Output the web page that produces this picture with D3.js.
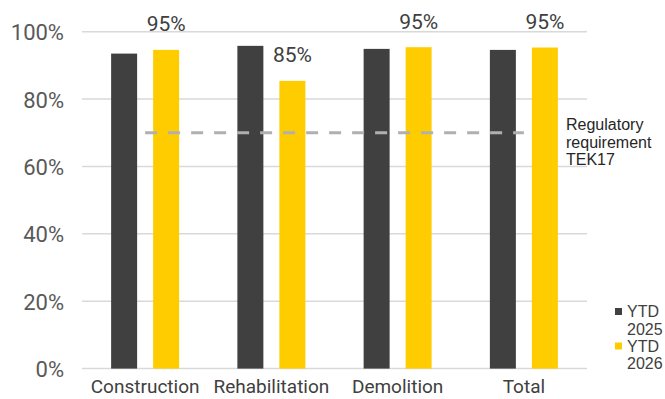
<!DOCTYPE html>
<html>
<head>
<meta charset="utf-8">
<script src="https://cdn.jsdelivr.net/npm/d3@7"></script>
<style>
  html, body { margin: 0; padding: 0; background: #fff; }
  svg { display: block; }
</style>
</head>
<body>
<svg id="chart" width="665" height="399"></svg>
<script>
const categories = ["Construction", "Rehabilitation", "Demolition", "Total"];
const seriesNames = ["YTD 2025", "YTD 2026"];
const ytd2025 = [0.935, 0.958, 0.949, 0.946];
const ytd2026 = [0.946, 0.854, 0.954, 0.953];
const requirementValue = 0.70;
const requirementLabel = ["Regulatory", "requirement", "TEK17"];
const yTicks = [0, 0.2, 0.4, 0.6, 0.8, 1.0];
const colors = ["#404040", "#FFCC00"];

const svg = d3.select("#chart");
const x = d3.scaleBand().domain(categories).range([82, 587]).paddingInner(0).paddingOuter(0);
const y = d3.scaleLinear().domain([0, 1]).range([368.6, 31.7]);
const bw = x.bandwidth();
const xs = d3.scaleBand().domain(seriesNames).range([bw / 2 - 34, bw / 2 + 34]).paddingInner(0.381);

// gridlines
svg.append("g").selectAll("line").data(yTicks).join("line")
  .attr("x1", 82).attr("x2", 587)
  .attr("y1", d => y(d)).attr("y2", d => y(d))
  .attr("stroke", "#d9d9d9").attr("stroke-width", 1.5);

// y axis labels
const yAxis = d3.axisLeft(y).tickValues(yTicks).tickFormat(d3.format(".0%")).tickSize(0).tickPadding(0);
const gy = svg.append("g").attr("transform", "translate(64,0)").call(yAxis);
gy.select(".domain").remove();
gy.selectAll("text").attr("font-family", "Roboto").attr("font-size", 22).attr("fill", "#595959").attr("dy", "0.36em");

// x axis labels
const xAxis = d3.axisBottom(x).tickSize(0).tickPadding(0);
const gx = svg.append("g").attr("transform", "translate(0,379)").call(xAxis);
gx.select(".domain").remove();
gx.selectAll("text").attr("font-family", "Roboto").attr("font-size", 19).attr("fill", "#404040").attr("dy", "0.75em");

// bars
const series = [ytd2025, ytd2026];
series.forEach((vals, si) => {
  svg.append("g").selectAll("rect").data(vals).join("rect")
    .attr("x", (d, i) => x(categories[i]) + xs(seriesNames[si]))
    .attr("width", xs.bandwidth())
    .attr("y", d => y(d))
    .attr("height", d => y(0) - y(d))
    .attr("fill", colors[si]);
});

// data labels above YTD 2026 bars
svg.append("g").selectAll("text").data(ytd2026).join("text")
  .attr("x", (d, i) => x(categories[i]) + xs(seriesNames[1]) + xs.bandwidth() / 2)
  .attr("y", d => y(d) - 18.5)
  .attr("text-anchor", "middle")
  .attr("font-family", "Roboto").attr("font-size", 21).attr("fill", "#404040")
  .text(d => d3.format(".0%")(d));

// requirement line
svg.append("line")
  .attr("x1", x(categories[0]) + bw / 2)
  .attr("x2", x(categories[categories.length - 1]) + bw / 2)
  .attr("y1", y(requirementValue)).attr("y2", y(requirementValue))
  .attr("stroke", "#b0b0b0").attr("stroke-width", 3).attr("stroke-dasharray", "12,11");

svg.append("text")
  .attr("x", 566).attr("y", 130)
  .attr("font-family", "Liberation Sans, Arial").attr("font-size", 16).attr("fill", "#262626")
  .selectAll("tspan").data(requirementLabel).join("tspan")
  .attr("x", 566).attr("dy", (d, i) => i === 0 ? 0 : 17.5)
  .text(d => d);

// legend
const legend = svg.append("g");
seriesNames.forEach((name, i) => {
  const top = 317 + i * 34.5;
  legend.append("rect").attr("x", 615).attr("y", top - 9).attr("width", 7).attr("height", 7).attr("fill", colors[i]);
  const parts = name.split(" ");
  legend.append("text")
    .attr("font-family", "Liberation Sans, Arial").attr("font-size", 16).attr("fill", "#404040")
    .selectAll("tspan").data(parts).join("tspan")
    .attr("x", 627).attr("y", (d, j) => top + j * 17.5)
    .text(d => d);
});
</script>
</body>
</html>
